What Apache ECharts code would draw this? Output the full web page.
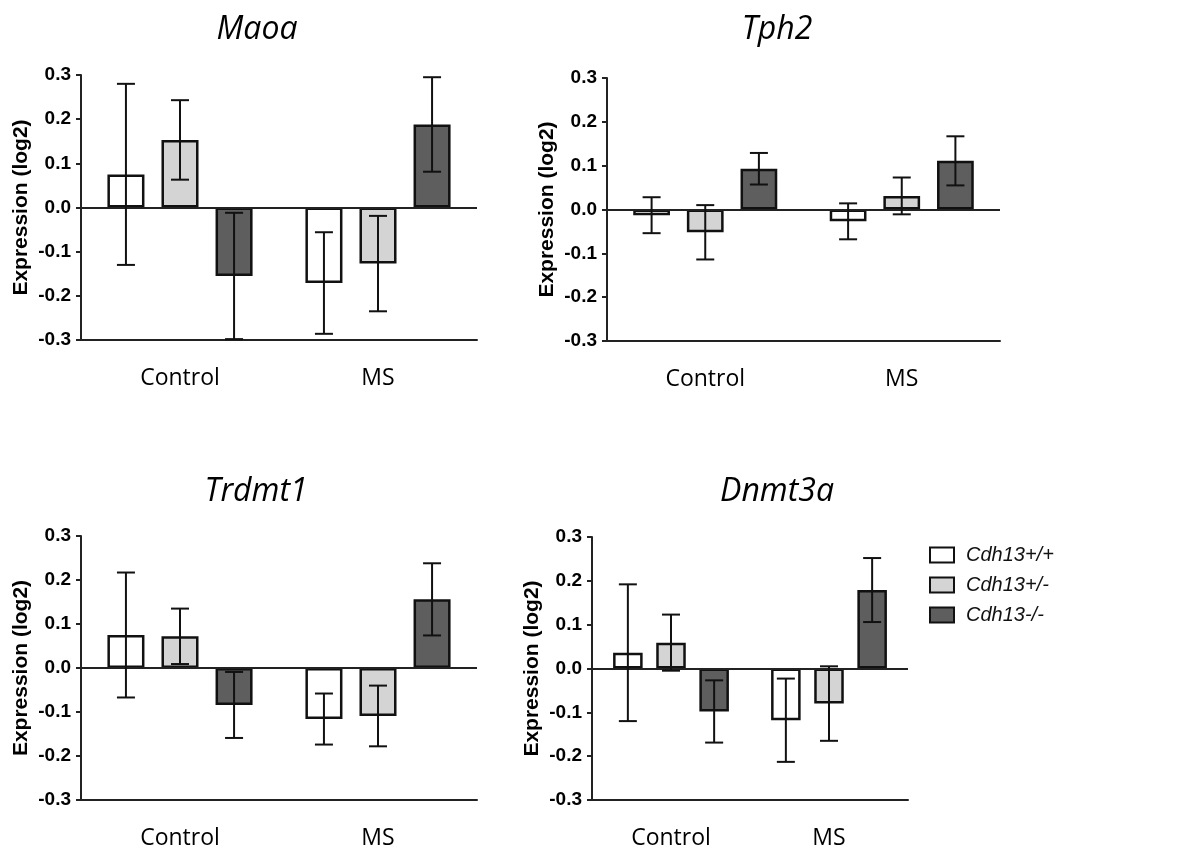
<!DOCTYPE html>
<html>
<head>
<meta charset="utf-8">
<script src="https://cdn.jsdelivr.net/npm/echarts@6/dist/echarts.min.js"></script>
<style>html,body{margin:0;padding:0;background:#fff}#c{width:1188px;height:850px}</style>
</head>
<body>
<div id="c"></div>
<script>
const categories = ['Control', 'MS'];
const genotypes = ['Cdh13+/+', 'Cdh13+/-', 'Cdh13-/-'];
const genes = ['Maoa', 'Tph2', 'Trdmt1', 'Dnmt3a'];
const yTicks = [-0.3, -0.2, -0.1, 0.0, 0.1, 0.2, 0.3];

// mean per genotype: [Control, MS]
const maoaMean   = [[0.075, -0.171], [0.153, -0.127], [-0.155, 0.188]];
const maoaErr    = [[0.205, 0.115], [0.090, 0.108], [0.143, 0.107]];
const tph2Mean   = [[-0.013, -0.027], [-0.052, 0.031], [0.093, 0.111]];
const tph2Err    = [[0.041, 0.041], [0.062, 0.042], [0.036, 0.056]];
const trdmt1Mean = [[0.075, -0.116], [0.072, -0.109], [-0.084, 0.156]];
const trdmt1Err  = [[0.142, 0.058], [0.063, 0.069], [0.075, 0.082]];
const dnmt3aMean = [[0.036, -0.118], [0.059, -0.080], [-0.098, 0.179]];
const dnmt3aErr  = [[0.156, 0.095], [0.064, 0.085], [0.071, 0.073]];

const means = [maoaMean, tph2Mean, trdmt1Mean, dnmt3aMean];
const errs = [maoaErr, tph2Err, trdmt1Err, dnmt3aErr];

const barColors = ['#ffffff', '#d4d4d4', '#5e5e5e'];
const grids = [
  {left: 81, top: 75, width: 396, height: 265},
  {left: 607, top: 78, width: 393, height: 263},
  {left: 81, top: 536, width: 396, height: 266},
  {left: 592, top: 537, width: 316, height: 265}
];
const titlePos = [
  {left: 252, top: 9}, {left: 772, top: 9}, {left: 251, top: 471}, {left: 772, top: 471}
];

const BW = 0.187, GAP = 0.46;
const STEP = BW * (1 + GAP);

function errRenderer(k) {
  return function (params, api) {
    const x = api.value(0), m = api.value(1), e = api.value(2);
    const band = api.size([1, 0])[0];
    const dx = (k - 1) * STEP * band;
    const p1 = api.coord([x, m + e]);
    const p2 = api.coord([x, m - e]);
    const cx = p1[0] + dx;
    const cap = 9;
    const st = {stroke: '#111', lineWidth: 2};
    return {
      type: 'group',
      children: [
        {type: 'line', shape: {x1: cx, y1: p1[1], x2: cx, y2: p2[1]}, style: st},
        {type: 'line', shape: {x1: cx - cap, y1: p1[1], x2: cx + cap, y2: p1[1]}, style: st},
        {type: 'line', shape: {x1: cx - cap, y1: p2[1], x2: cx + cap, y2: p2[1]}, style: st}
      ]
    };
  };
}

const xAxes = [], yAxes = [], series = [], titles = [];
genes.forEach((g, i) => {
  titles.push({
    text: g, left: titlePos[i].left, top: titlePos[i].top, textAlign: 'center',
    textStyle: {fontFamily: 'Open Sans', fontStyle: 'italic', fontWeight: 'normal', fontSize: 32, color: '#000'}
  });
  xAxes.push({
    type: 'category', gridIndex: i, data: categories,
    axisLine: {onZero: false, lineStyle: {color: '#222', width: 2}},
    axisTick: {alignWithLabel: true, length: 6, lineStyle: {color: '#222', width: 2}},
    axisLabel: {fontFamily: 'Open Sans', fontSize: 23, color: '#000', margin: 27},
    splitLine: {show: false}
  });
  yAxes.push({
    type: 'value', gridIndex: i, min: yTicks[0], max: yTicks[yTicks.length - 1], interval: 0.1,
    name: 'Expression (log2)', nameLocation: 'middle', nameGap: 49,
    nameTextStyle: {fontFamily: 'Liberation Sans', fontWeight: 'bold', fontSize: 21, color: '#000'},
    axisLine: {show: true, lineStyle: {color: '#222', width: 2}},
    axisTick: {show: true, length: 5, lineStyle: {color: '#222', width: 2}},
    axisLabel: {fontFamily: 'Liberation Sans', fontWeight: 'bold', fontSize: 19, color: '#000', margin: 10,
      formatter: v => v.toFixed(1)},
    splitLine: {show: false}
  });
  genotypes.forEach((gt, k) => {
    const s = {
      type: 'bar', name: gt, xAxisIndex: i, yAxisIndex: i,
      data: means[i][k], barWidth: (BW * 100) + '%', barGap: (GAP * 100) + '%',
      itemStyle: {color: barColors[k], borderColor: '#111', borderWidth: 2.5},
      z: 2
    };
    if (k === 0) {
      s.markLine = {
        silent: true, symbol: 'none', animation: false,
        label: {show: false},
        lineStyle: {color: '#222', width: 2, type: 'solid'},
        data: [{yAxis: 0}]
      };
    }
    series.push(s);
  });
  genotypes.forEach((gt, k) => {
    series.push({
      type: 'custom', name: gt + ' err', xAxisIndex: i, yAxisIndex: i,
      renderItem: errRenderer(k), z: 5, silent: true,
      data: categories.map((c, j) => [j, means[i][k][j], errs[i][k][j]])
    });
  });
});

const chart = echarts.init(document.getElementById('c'), null, {renderer: 'canvas'});
chart.setOption({
  animation: false,
  backgroundColor: '#fff',
  title: titles,
  grid: grids,
  xAxis: xAxes,
  yAxis: yAxes,
  legend: {
    data: genotypes, orient: 'vertical', left: 924, top: 540,
    itemWidth: 24, itemHeight: 15, itemGap: 10, icon: 'rect',
    itemStyle: {borderColor: '#111', borderWidth: 2},
    textStyle: {fontFamily: 'Liberation Sans', fontStyle: 'italic', fontSize: 20, color: '#111', padding: [0, 0, 0, 7]}
  },
  series: series
});
</script>
</body>
</html>
